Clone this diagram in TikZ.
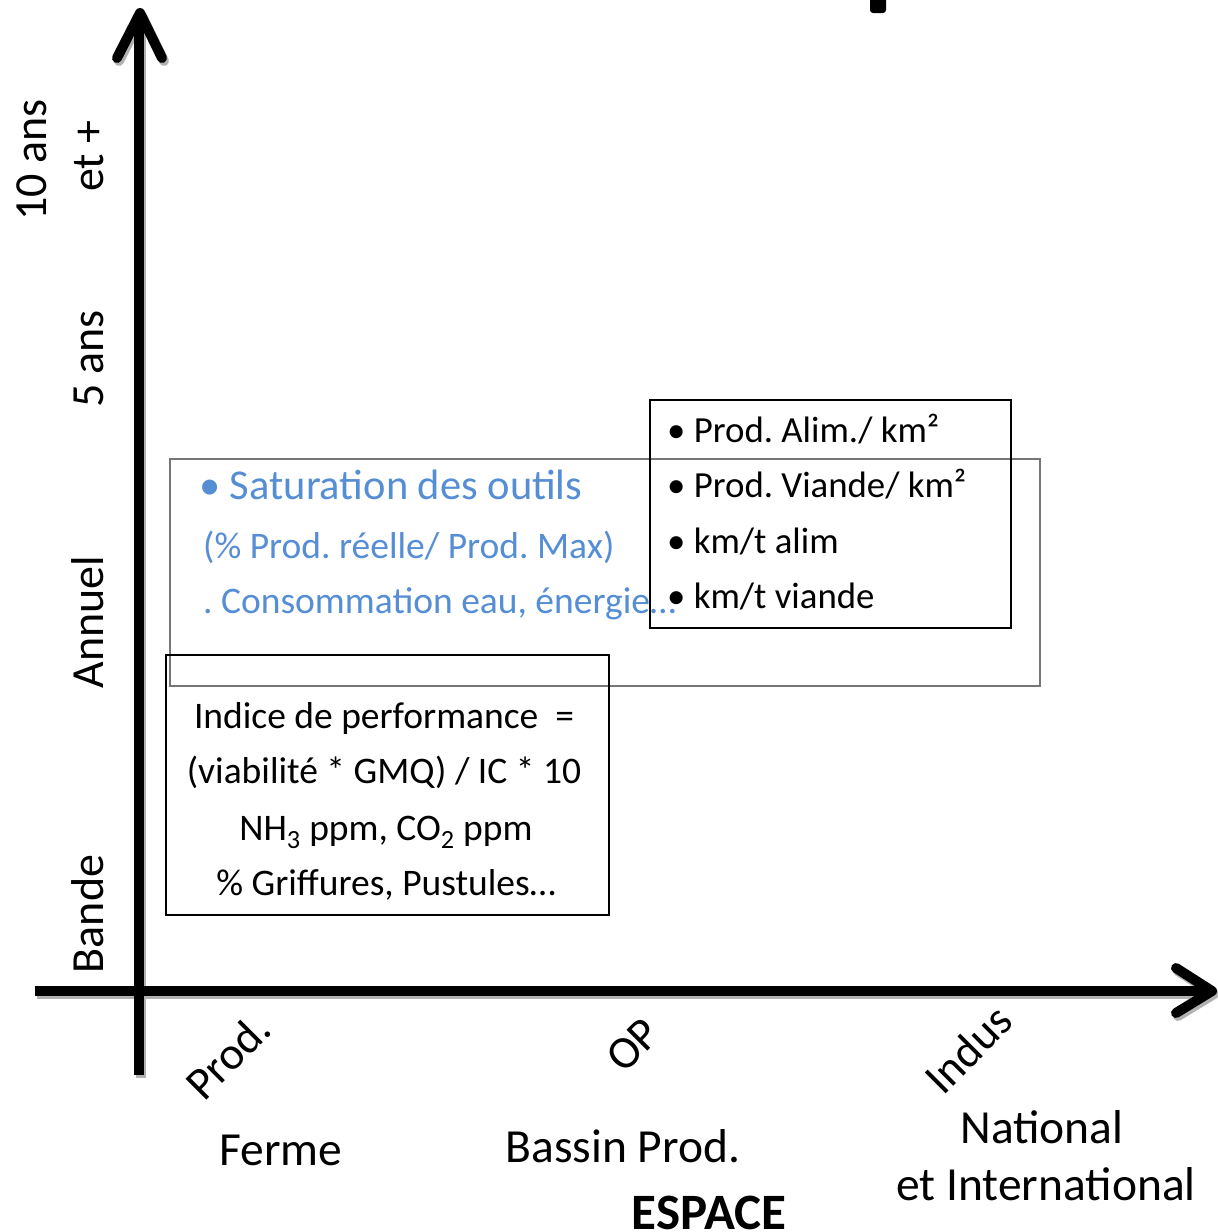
\documentclass[tikz,border=0pt]{standalone}
\usepackage{fontspec}
\setmainfont{Carlito}
\frenchspacing
\definecolor{satblue}{RGB}{85,142,213}
\definecolor{framegray}{RGB}{118,118,118}

\begin{document}
\begin{tikzpicture}[x=1pt, y=-1pt,
    axisline/.style={line width=10pt},
    axistip/.style={line width=10pt, line cap=round, line join=round},
    frame/.style={draw, line width=2.4pt, inner sep=0pt},
    timelabel/.style={rotate=90, anchor=base, inner sep=0pt, font=\fontsize{46}{55}\selectfont},
    scalelabel/.style={rotate=45, inner sep=0pt, font=\fontsize{46}{55}\selectfont},
    placelabel/.style={anchor=base, inner sep=0pt, font=\fontsize{47.5}{57}\selectfont},
    satline/.style={anchor=base west, inner sep=0pt, text=satblue},
    kmline/.style={anchor=base west, inner sep=0pt, font=\fontsize{36.8}{44}\selectfont},
    perfline/.style={anchor=base, inner sep=0pt, font=\fontsize{37.5}{45}\selectfont}]
    \useasboundingbox (0,0) rectangle (1218,1232);

    % axes, grey shade first
    \foreach \dx/\dy/\col in {2/3/black!30, 0/0/black} {
      \begin{scope}[shift={(\dx,\dy)}, \col]
        \draw[axisline] (139,1075) -- (139,16);
        \draw[axistip] (117,58) -- (140,13) -- (162,58);
        \draw[axisline] (35,991) -- (1208,991);
        \draw[axistip] (1176,968) -- (1212,991) -- (1176,1013);
      \end{scope}
    }
    \fill[rounded corners=3pt] (870,-5) rectangle (886,13);

    % boxes
    \node[frame, draw=framegray, minimum width=870, minimum height=227] (satbox) at (605,572.5) {};
    \node[frame, minimum width=361, minimum height=228] (kmbox) at (830.5,514) {};
    \node[frame, minimum width=443, minimum height=260] (perfbox) at (387.5,785) {};

    % time axis
    \node[timelabel] (t10) at (46,160) {10 ans};
    \node[timelabel] (t10b) at (103,156) {et +};
    \node[timelabel] (t5) at (103,359) {5 ans};
    \node[timelabel] (tyear) at (103,622) {Annuel};
    \node[timelabel] (tband) at (103,914) {Bande};

    % space axis
    \node[scalelabel] (sprod) at (228,1056) {Prod.};
    \node[scalelabel] (sop) at (633,1045) {OP};
    \node[scalelabel] (sind) at (968,1049) {Indus};
    \node[placelabel] (pfarm) at (281,1165) {Ferme};
    \node[placelabel] (pbasin) at (623,1162) {Bassin Prod.};
    \node[placelabel] (pnat) at (1042,1143) {National};
    \node[placelabel] (pint) at (1046,1200) {et International};
    \node[placelabel, font=\fontsize{51}{60}\selectfont\bfseries] (space) at (709,1229) {ESPACE};

    % grey box
    \node[satline, font=\fontsize{42.5}{51}\selectfont] (sat1) at (199,499) {• Saturation des outils};
    \node[satline, font=\fontsize{37.5}{45}\selectfont] (sat2) at (203,558) {(\% Prod. réelle/ Prod. Max)};
    \node[satline, font=\fontsize{37.5}{45}\selectfont] (sat3) at (203,613) {. Consommation eau, énergie…};

    % km box
    \node[kmline] (km1) at (667,442) {• Prod. Alim./ km²};
    \node[kmline] (km2) at (667,497) {• Prod. Viande/ km²};
    \node[kmline] (km3) at (667,553) {• km/t alim};
    \node[kmline] (km4) at (667,608) {• km/t viande};

    % performance box
    \node[perfline] (perf1) at (384,728) {Indice de performance~~=};
    \node[perfline] (perf2) at (384,783) {(viabilité * GMQ) / IC * 10};
    \node[perfline] (perf3) at (386,840) {NH\textsubscript{3} ppm, CO\textsubscript{2} ppm};
    \node[perfline] (perf4) at (386,895) {\% Griffures, Pustules…};
\end{tikzpicture}
\end{document}
